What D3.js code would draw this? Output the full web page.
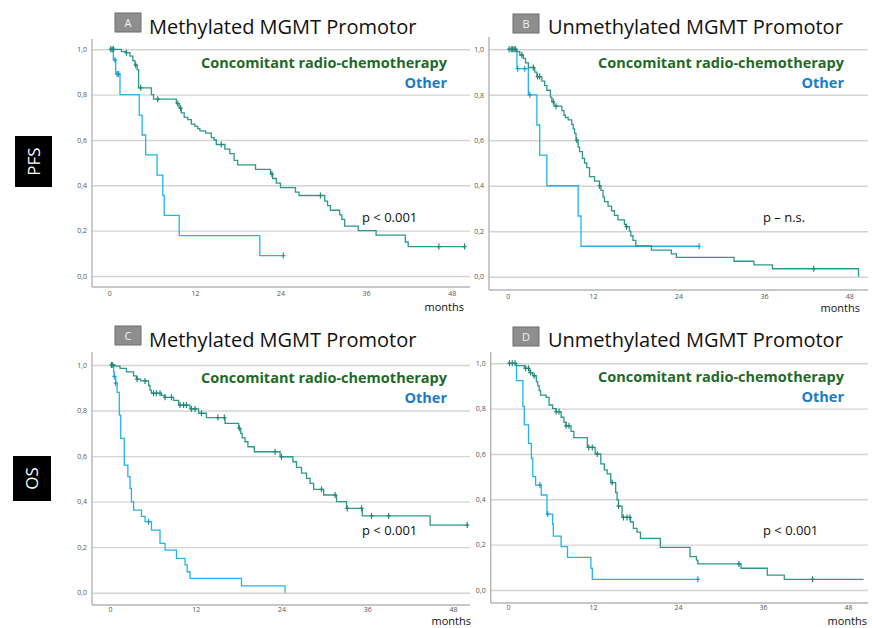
<!DOCTYPE html>
<html>
<head>
<meta charset="utf-8">
<script src="https://cdn.jsdelivr.net/npm/d3@7"></script>
<style>
body { margin: 0; background: #fff; }
text { font-family: "Open Sans", sans-serif; }
</style>
</head>
<body>
<div id="chart"></div>
<script>
// ---- data ----
const monthTicks = [0, 12, 24, 36, 48];
const survTicks = [0, 0.2, 0.4, 0.6, 0.8, 1.0];
const seriesNames = ["Concomitant radio-chemotherapy", "Other"];
const rowLabels = ["PFS", "OS"];
const panelLetters = ["A", "B", "C", "D"];
const panelTitles = ["Methylated MGMT Promotor", "Unmethylated MGMT Promotor",
                     "Methylated MGMT Promotor", "Unmethylated MGMT Promotor"];
const pValues = ["p < 0.001", "p \u2013 n.s.", "p < 0.001", "p < 0.001"];

// A: PFS, methylated
const aCrtTime = [0, 1.7, 2.4, 2.9, 3.3, 3.6, 3.9, 4.1, 5.9, 6.2, 9.4, 9.8, 10.1, 10.5, 11.0, 11.5, 12.0, 12.4, 12.7, 13.5, 14.3, 14.7, 15.0, 16.2, 16.9, 17.5, 18.0, 20.5, 22.6, 22.9, 23.4, 24.0, 26.1, 26.6, 30.2, 30.6, 31.0, 32.3, 32.6, 33.0, 34.9, 37.4, 41.5, 41.9, 49.8];
const aCrtSurv = [1.0, 0.99, 0.985, 0.97, 0.95, 0.93, 0.91, 0.83, 0.80, 0.78, 0.76, 0.74, 0.72, 0.70, 0.69, 0.67, 0.66, 0.65, 0.64, 0.63, 0.61, 0.60, 0.58, 0.56, 0.54, 0.51, 0.49, 0.47, 0.45, 0.43, 0.41, 0.39, 0.37, 0.355, 0.33, 0.31, 0.29, 0.27, 0.25, 0.22, 0.20, 0.18, 0.15, 0.13, 0.13];
const aCrtCens = [0.2, 0.4, 0.6, 2.4, 3.7, 4.4, 6.8, 9.6, 10.0, 15.7, 22.8, 29.6, 46.2, 49.8];
const aOthTime = [0, 0.56, 0.9, 1.5, 4.2, 4.6, 5.1, 6.7, 7.5, 7.7, 9.8, 21.1, 24.4];
const aOthSurv = [1.0, 0.953, 0.891, 0.80, 0.71, 0.622, 0.534, 0.445, 0.355, 0.267, 0.178, 0.09, 0.09];
const aOthCens = [0.8, 1.1, 1.3, 24.4];

// B: PFS, unmethylated
const bCrtTime = [0, 1.3, 1.7, 2.2, 2.5, 2.9, 3.8, 4.1, 4.8, 5.2, 5.5, 6.0, 6.2, 6.5, 7.6, 7.9, 8.1, 8.5, 9.0, 9.2, 9.4, 9.6, 9.9, 10.1, 10.5, 10.8, 11.1, 11.5, 12.2, 12.9, 13.1, 13.4, 13.6, 14.1, 14.6, 15.0, 15.5, 16.4, 16.6, 17.1, 17.3, 17.6, 18.0, 20.2, 23.0, 23.7, 31.8, 34.6, 37.2, 49.3];
const bCrtSurv = [1.0, 0.99, 0.975, 0.96, 0.94, 0.92, 0.90, 0.88, 0.86, 0.84, 0.82, 0.79, 0.77, 0.75, 0.73, 0.71, 0.70, 0.69, 0.67, 0.65, 0.63, 0.60, 0.57, 0.55, 0.52, 0.50, 0.48, 0.44, 0.42, 0.40, 0.38, 0.35, 0.33, 0.31, 0.29, 0.27, 0.25, 0.23, 0.22, 0.20, 0.18, 0.16, 0.135, 0.117, 0.10, 0.085, 0.068, 0.052, 0.035, 0.0];
const bCrtCens = [0.2, 0.5, 0.7, 0.9, 1.1, 2.0, 3.6, 4.2, 4.5, 6.4, 6.8, 9.7, 12.9, 16.7, 43.0];
const bOthTime = [0, 1.3, 2.9, 4.1, 4.5, 5.5, 9.9, 10.3, 26.9];
const bOthSurv = [1.0, 0.915, 0.80, 0.667, 0.535, 0.40, 0.267, 0.134, 0.134];
const bOthCens = [1.4, 2.4, 3.1, 26.9];

// C: OS, methylated
const cCrtTime = [0, 0.7, 1.4, 2.3, 3.3, 3.7, 4.3, 5.4, 5.6, 5.8, 7.2, 7.7, 8.9, 9.6, 11.2, 12.4, 13.5, 16.1, 18.0, 18.3, 18.5, 18.9, 19.3, 20.2, 23.8, 25.6, 26.1, 26.8, 27.5, 28.0, 28.5, 29.9, 31.7, 33.1, 35.3, 44.8, 50.0];
const cCrtSurv = [1.0, 0.995, 0.985, 0.97, 0.952, 0.938, 0.93, 0.91, 0.89, 0.876, 0.867, 0.858, 0.845, 0.824, 0.807, 0.788, 0.769, 0.744, 0.722, 0.70, 0.68, 0.663, 0.641, 0.619, 0.597, 0.575, 0.55, 0.525, 0.502, 0.48, 0.454, 0.429, 0.40, 0.37, 0.337, 0.297, 0.297];
const cCrtCens = [0.2, 0.4, 3.8, 4.9, 6.1, 6.5, 7.0, 7.7, 8.6, 9.8, 10.3, 10.7, 11.4, 11.9, 12.8, 15.1, 16.0, 18.1, 23.1, 24.0, 29.6, 31.5, 33.2, 35.2, 36.6, 39.0, 50.0];
const cOthTime = [0, 0.5, 0.6, 0.8, 1.0, 1.3, 1.5, 2.0, 2.5, 2.8, 3.0, 3.3, 4.4, 4.9, 5.8, 7.0, 7.7, 9.3, 10.5, 10.8, 11.2, 18.4, 24.5];
const cOthSurv = [1.0, 0.97, 0.95, 0.92, 0.88, 0.78, 0.678, 0.56, 0.51, 0.458, 0.40, 0.363, 0.335, 0.312, 0.275, 0.217, 0.187, 0.151, 0.122, 0.092, 0.063, 0.03, 0.0];
const cOthCens = [0.6, 0.8, 5.4];

// D: OS, unmethylated
const dCrtTime = [0, 1.2, 2.3, 3.0, 3.5, 4.0, 4.2, 4.4, 4.6, 5.4, 5.8, 6.3, 6.8, 7.5, 7.9, 8.2, 8.9, 9.3, 11.2, 12.3, 13.1, 13.6, 14.0, 14.5, 15.2, 15.4, 15.6, 16.1, 17.3, 17.7, 18.2, 18.7, 21.5, 25.7, 26.6, 26.8, 32.9, 36.6, 39.0, 50.2];
const dCrtSurv = [1.0, 0.99, 0.978, 0.959, 0.945, 0.919, 0.90, 0.88, 0.86, 0.85, 0.816, 0.80, 0.787, 0.762, 0.74, 0.724, 0.70, 0.672, 0.629, 0.60, 0.556, 0.53, 0.512, 0.474, 0.43, 0.397, 0.37, 0.32, 0.30, 0.272, 0.255, 0.228, 0.188, 0.147, 0.132, 0.115, 0.096, 0.066, 0.047, 0.047];
const dCrtCens = [0.2, 0.6, 1.0, 2.5, 2.9, 3.2, 3.7, 6.8, 7.2, 8.2, 8.6, 11.4, 11.9, 12.6, 14.7, 15.6, 16.3, 16.8, 17.2, 32.6, 43.0];
const dOthTime = [0, 1.2, 2.1, 2.3, 2.9, 3.3, 3.5, 3.9, 4.7, 5.5, 6.3, 6.4, 7.5, 8.4, 11.7, 11.9, 26.8];
const dOthSurv = [1.0, 0.924, 0.81, 0.728, 0.647, 0.58, 0.50, 0.463, 0.419, 0.335, 0.29, 0.238, 0.191, 0.144, 0.096, 0.047, 0.047];
const dOthCens = [4.5, 5.6, 26.8];

// ---- layout ----
const W = 872, H = 628;
const crtColor = "#2a9a8c", othColor = "#22b4ec";
const crtText = "#1f6a27", othText = "#1a7cc8";

const panels = [
    {crt: [aCrtTime, aCrtSurv, aCrtCens], oth: [aOthTime, aOthSurv, aOthCens],
     clip: [60, 0, 412, 314], axisX: 92, x0: 109.3, x48: 451.7, y1: 49.3, y0: 276, top: 39, axisY: 287, right: 470, tickPad: 4,
     box: [115, 13], titleX: 149, titleY: 34, legX: 447, legY: 68, pX: 362, pY: 222, monX: 464, monY: 311},
    {crt: [bCrtTime, bCrtSurv, bCrtCens], oth: [bOthTime, bOthSurv, bOthCens],
     clip: [472, 0, 400, 314], axisX: 489, x0: 507.7, x48: 849.3, y1: 49.3, y0: 276.7, top: 37, axisY: 290, right: 868, tickPad: 4,
     box: [513, 14], titleX: 548, titleY: 34, legX: 844, legY: 68, pX: 763, pY: 222, monX: 860, monY: 312},
    {crt: [cCrtTime, cCrtSurv, cCrtCens], oth: [cOthTime, cOthSurv, cOthCens],
     clip: [60, 314, 412, 314], axisX: 92, x0: 110, x48: 453, y1: 365, y0: 592.7, top: 352, axisY: 605, right: 470, tickPad: 2,
     box: [115, 326], titleX: 149, titleY: 347, legX: 447, legY: 383, pX: 362, pY: 535, monX: 471, monY: 625},
    {crt: [dCrtTime, dCrtSurv, dCrtCens], oth: [dOthTime, dOthSurv, dOthCens],
     clip: [472, 314, 400, 314], axisX: 490.7, x0: 508, x48: 848, y1: 363.3, y0: 590, top: 352, axisY: 603, right: 868, tickPad: 2,
     box: [513, 327], titleX: 548, titleY: 347, legX: 844, legY: 382, pX: 763, pY: 535, monX: 867, monY: 625}
];

const svg = d3.select("#chart").append("svg")
    .attr("width", W)
    .attr("height", H)
    .style("background", "#fff");

//Row labels (PFS / OS)
const rowBoxes = [[15, 136, 37, 51], [13, 456, 38, 45]];
rowBoxes.forEach((b, i) => {
    svg.append("rect").attr("x", b[0]).attr("y", b[1]).attr("width", b[2]).attr("height", b[3]).attr("fill", "#000");
    svg.append("text")
        .attr("transform", `translate(${b[0] + b[2] / 2 + 6},${b[1] + b[3] / 2}) rotate(-90)`)
        .attr("text-anchor", "middle")
        .attr("fill", "#fff")
        .attr("font-size", 17)
        .text(rowLabels[i]);
});

const fmt = d => d3.format(".1f")(d).replace(".", ",");

panels.forEach((p, i) => {

    svg.append("clipPath").attr("id", "clip" + i)
        .append("rect").attr("x", p.clip[0]).attr("y", p.clip[1]).attr("width", p.clip[2]).attr("height", p.clip[3]);
    const g = svg.append("g").attr("clip-path", `url(#clip${i})`);

    const x = d3.scaleLinear().domain([0, 48]).range([p.x0, p.x48]);
    const y = d3.scaleLinear().domain([0, 1]).range([p.y0, p.y1]);

    //Gridlines + y labels
    const yAxis = g.append("g")
        .attr("transform", `translate(${p.axisX},0)`)
        .call(d3.axisLeft(y).tickValues(survTicks).tickFormat(fmt).tickSize(-(p.right - p.axisX)).tickPadding(5));
    yAxis.select(".domain").remove();
    yAxis.selectAll("line").attr("stroke", "#d4d4d4").attr("stroke-width", 1.4);
    yAxis.selectAll("text").attr("font-size", 7).attr("fill", "#555");

    //x labels
    const xAxis = g.append("g")
        .attr("transform", `translate(0,${p.axisY})`)
        .call(d3.axisBottom(x).tickValues(monthTicks).tickSize(0).tickPadding(p.tickPad));
    xAxis.select(".domain").remove();
    xAxis.selectAll("text").attr("font-size", 7).attr("fill", "#555");

    //Axis lines
    g.append("line").attr("x1", p.axisX).attr("x2", p.axisX).attr("y1", p.top).attr("y2", p.axisY)
        .attr("stroke", "#b4b4b4").attr("stroke-width", 1.4);
    g.append("line").attr("x1", p.axisX).attr("x2", p.right).attr("y1", p.axisY).attr("y2", p.axisY)
        .attr("stroke", "#b4b4b4").attr("stroke-width", 1.4);

    //Curves
    const line = d3.line().x(d => x(d[0])).y(d => y(d[1])).curve(d3.curveStepAfter);
    [[p.oth, othColor], [p.crt, crtColor]].forEach(([s, col]) => {
        const pts = s[0].map((t, k) => [t, s[1][k]]);
        g.append("path").datum(pts)
            .attr("d", line)
            .attr("fill", "none")
            .attr("stroke", col)
            .attr("stroke-width", 1.3);
        const cens = s[2].map(t => [t, s[1][d3.bisectRight(s[0], t) - 1]]);
        g.selectAll(null).data(cens).enter().append("path")
            .attr("d", d => `M${x(d[0])},${y(d[1]) - 3}V${y(d[1]) + 3}M${x(d[0]) - 2},${y(d[1])}H${x(d[0]) + 2}`)
            .attr("stroke", d3.color(col).darker(0.4))
            .attr("stroke-width", 1.2);
    });

    //Title
    g.append("rect").attr("x", p.box[0]).attr("y", p.box[1]).attr("width", 26).attr("height", 19)
        .attr("fill", "#8e8e8e").attr("stroke", "#6f6f6f").attr("stroke-width", 1);
    g.append("text").attr("x", p.box[0] + 13).attr("y", p.box[1] + 14)
        .attr("text-anchor", "middle").attr("fill", "#f2f2f2").attr("font-size", 11)
        .text(panelLetters[i]);
    g.append("text").attr("x", p.titleX).attr("y", p.titleY)
        .attr("font-size", 20).attr("fill", "#111")
        .text(panelTitles[i]);

    //Legend
    g.append("text").attr("x", p.legX).attr("y", p.legY)
        .attr("text-anchor", "end").attr("font-size", 14.5).attr("font-weight", "bold").attr("fill", crtText)
        .text(seriesNames[0]);
    g.append("text").attr("x", p.legX).attr("y", p.legY + 20)
        .attr("text-anchor", "end").attr("font-size", 14.5).attr("font-weight", "bold").attr("fill", othText)
        .text(seriesNames[1]);

    //p-value + months
    g.append("text").attr("x", p.pX).attr("y", p.pY)
        .attr("font-size", 13).attr("fill", "#111")
        .text(pValues[i]);
    g.append("text").attr("x", p.monX).attr("y", p.monY)
        .attr("text-anchor", "end").attr("font-size", 11).attr("fill", "#111")
        .text("months");
});
</script>
</body>
</html>
